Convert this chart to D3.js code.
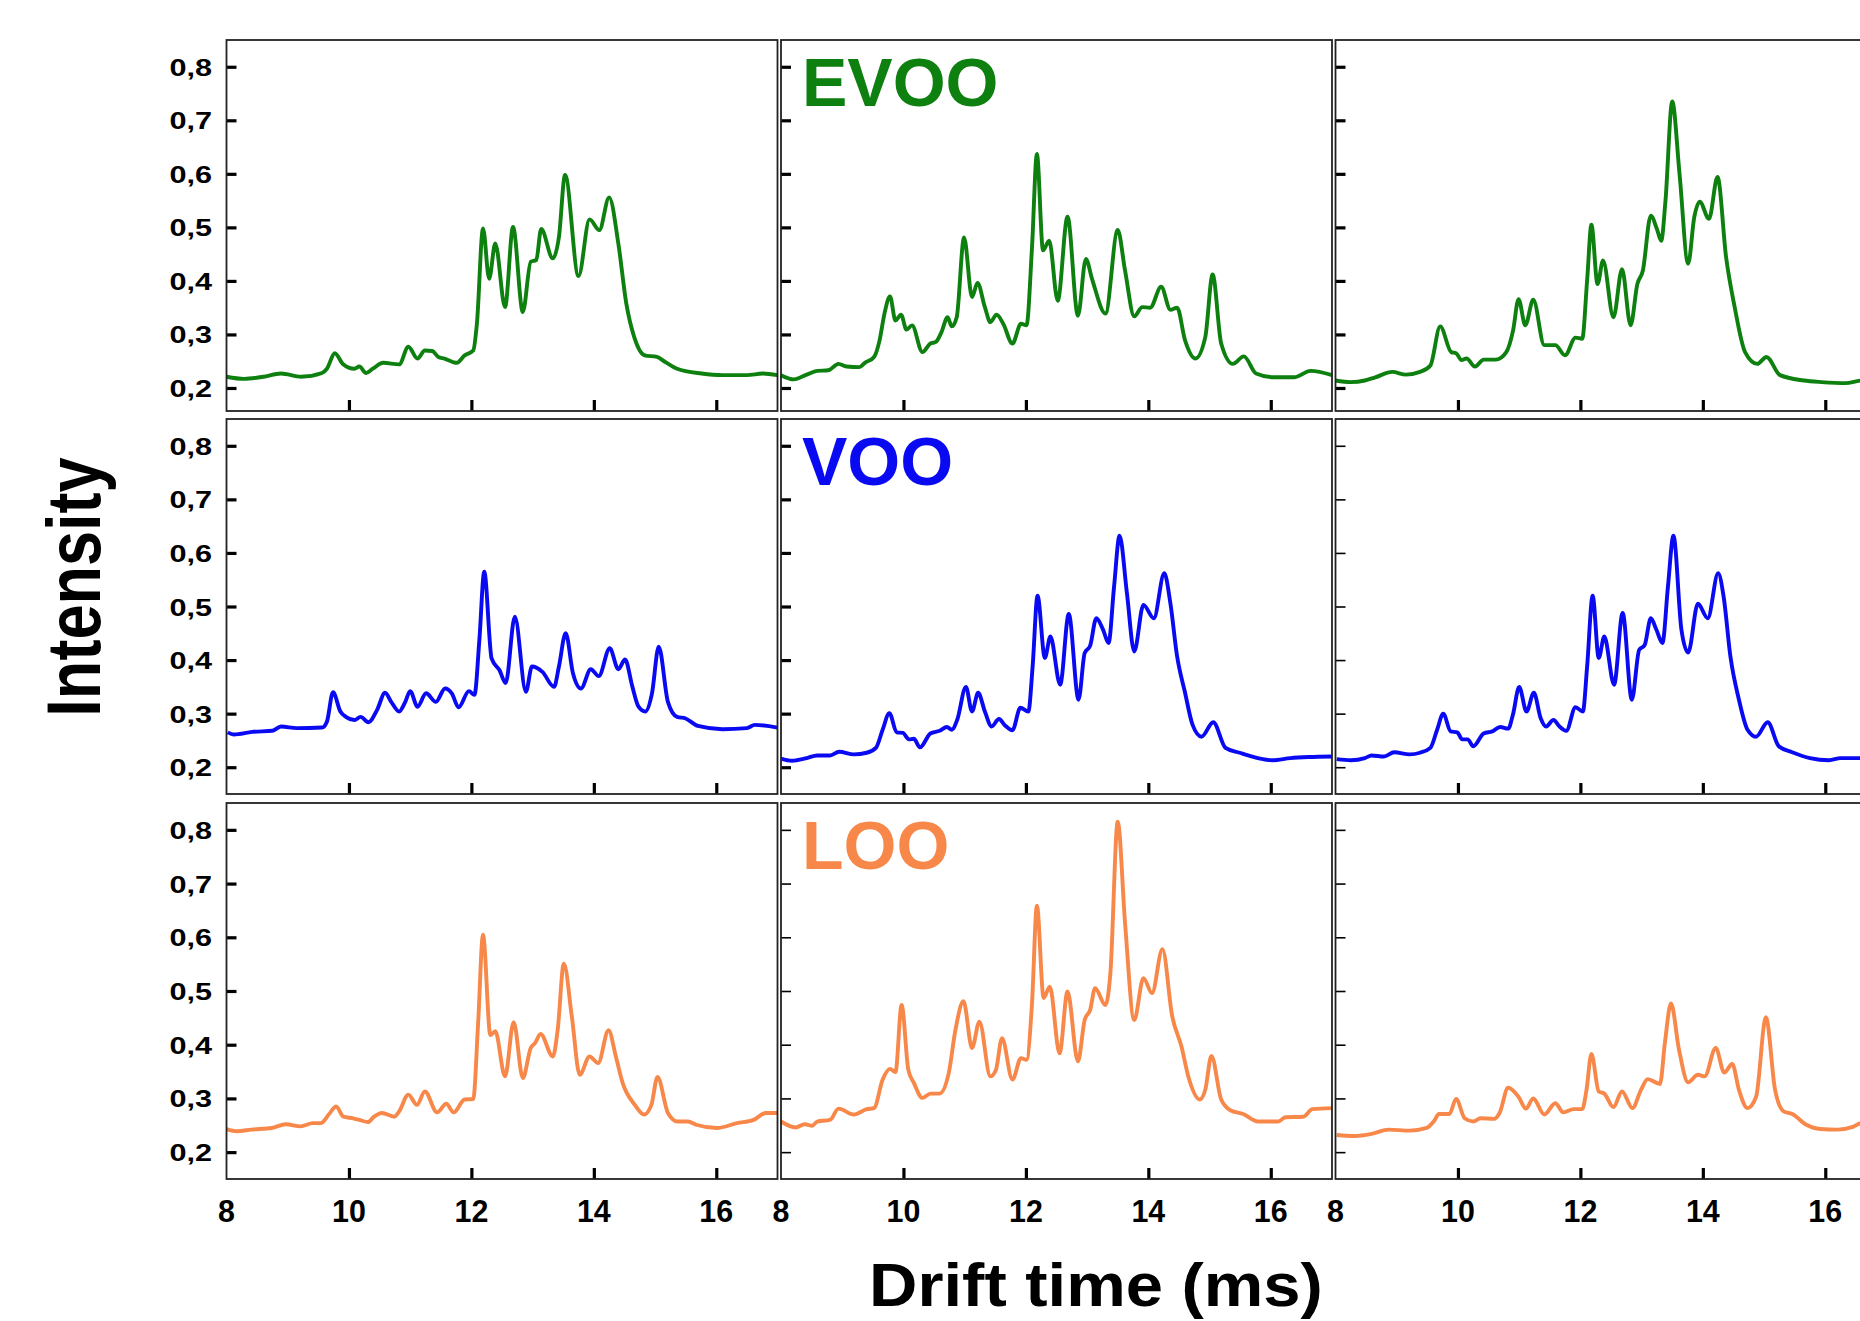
<!DOCTYPE html>
<html>
<head>
<meta charset="utf-8">
<script src="https://cdn.jsdelivr.net/npm/d3@7"></script>
<style>
  body { margin: 0; background: #fff; }
  text { font-family: "Liberation Sans", Arial, sans-serif; font-weight: bold; }
</style>
</head>
<body>
<svg id="chart" width="1860" height="1321"></svg>
<script>
// oil classes (one per row) and their colours
const groups = ["EVOO", "VOO", "LOO"];
const groupColors = ["#0d800f", "#0a0af2", "#f7884a"];
const timeTicks = [8, 10, 12, 14, 16];
const intensityTicks = [0.2, 0.3, 0.4, 0.5, 0.6, 0.7, 0.8];

// drift time (ms), intensity
const evoo1 = [[8.00,0.221],[8.29,0.217],[8.60,0.221],[8.89,0.227],[9.22,0.221],[9.56,0.228],[9.64,0.236],[9.77,0.265],[9.90,0.245],[10.09,0.236],[10.17,0.240],[10.28,0.228],[10.39,0.236],[10.56,0.247],[10.82,0.244],[10.97,0.277],[11.12,0.255],[11.24,0.270],[11.36,0.269],[11.46,0.258],[11.56,0.255],[11.76,0.247],[11.89,0.261],[12.03,0.270],[12.09,0.320],[12.19,0.498],[12.29,0.404],[12.39,0.470],[12.55,0.351],[12.68,0.501],[12.84,0.342],[12.97,0.436],[13.06,0.439],[13.14,0.497],[13.33,0.442],[13.43,0.482],[13.53,0.598],[13.75,0.409],[13.93,0.515],[14.09,0.495],[14.25,0.556],[14.40,0.470],[14.53,0.358],[14.66,0.295],[14.83,0.261],[15.03,0.258],[15.16,0.249],[15.36,0.236],[15.76,0.227],[16.10,0.224],[16.50,0.224],[16.76,0.227],[17.00,0.224]];
const evoo2 = [[8.00,0.224],[8.21,0.216],[8.42,0.225],[8.59,0.232],[8.77,0.233],[8.94,0.245],[9.07,0.240],[9.28,0.239],[9.37,0.247],[9.52,0.258],[9.61,0.289],[9.69,0.339],[9.78,0.371],[9.87,0.326],[9.96,0.337],[10.05,0.309],[10.14,0.317],[10.31,0.267],[10.44,0.283],[10.53,0.286],[10.62,0.304],[10.72,0.332],[10.79,0.315],[10.87,0.332],[10.99,0.481],[11.12,0.370],[11.21,0.396],[11.33,0.351],[11.42,0.323],[11.52,0.337],[11.63,0.320],[11.78,0.283],[11.92,0.320],[12.01,0.317],[12.10,0.463],[12.18,0.637],[12.28,0.457],[12.38,0.475],[12.52,0.363],[12.68,0.520],[12.85,0.335],[12.98,0.441],[13.08,0.404],[13.30,0.339],[13.50,0.495],[13.62,0.419],[13.77,0.334],[13.90,0.351],[14.03,0.350],[14.21,0.389],[14.36,0.346],[14.47,0.350],[14.60,0.289],[14.77,0.255],[14.93,0.295],[15.05,0.412],[15.19,0.283],[15.38,0.245],[15.56,0.259],[15.76,0.227],[16.03,0.220],[16.38,0.220],[16.65,0.232],[17.00,0.224]];
const evoo3 = [[8.00,0.214],[8.25,0.211],[8.48,0.214],[8.65,0.220],[8.93,0.230],[9.15,0.225],[9.38,0.230],[9.55,0.242],[9.71,0.315],[9.89,0.267],[9.97,0.265],[10.06,0.252],[10.14,0.255],[10.28,0.240],[10.42,0.253],[10.62,0.253],[10.79,0.267],[10.90,0.307],[10.99,0.366],[11.10,0.317],[11.23,0.365],[11.41,0.280],[11.59,0.280],[11.75,0.261],[11.92,0.294],[12.03,0.292],[12.11,0.401],[12.18,0.505],[12.28,0.394],[12.37,0.438],[12.54,0.332],[12.68,0.422],[12.82,0.317],[12.93,0.394],[13.02,0.419],[13.15,0.522],[13.25,0.497],[13.32,0.475],[13.39,0.550],[13.50,0.735],[13.62,0.599],[13.76,0.432],[13.86,0.519],[13.95,0.548],[14.10,0.516],[14.24,0.594],[14.38,0.444],[14.52,0.351],[14.69,0.267],[14.89,0.245],[15.04,0.258],[15.26,0.224],[15.65,0.214],[15.94,0.211],[16.33,0.209],[16.60,0.214],[16.80,0.214],[17.00,0.215]];

const voo1 = [[8.02,0.265],[8.12,0.261],[8.42,0.266],[8.75,0.268],[8.89,0.276],[9.15,0.273],[9.56,0.274],[9.64,0.285],[9.74,0.340],[9.86,0.304],[9.95,0.294],[10.09,0.288],[10.19,0.294],[10.32,0.284],[10.46,0.307],[10.59,0.339],[10.69,0.322],[10.82,0.304],[10.92,0.322],[11.00,0.342],[11.12,0.313],[11.26,0.338],[11.42,0.322],[11.57,0.347],[11.68,0.338],[11.79,0.312],[11.96,0.342],[12.05,0.335],[12.13,0.437],[12.21,0.565],[12.33,0.403],[12.46,0.381],[12.56,0.357],[12.71,0.481],[12.89,0.341],[12.99,0.388],[13.16,0.378],[13.35,0.350],[13.43,0.388],[13.54,0.450],[13.66,0.375],[13.79,0.347],[13.95,0.383],[14.08,0.370],[14.26,0.422],[14.40,0.383],[14.51,0.401],[14.63,0.350],[14.73,0.313],[14.84,0.304],[14.95,0.338],[15.06,0.425],[15.21,0.322],[15.36,0.294],[15.50,0.291],[15.70,0.277],[16.10,0.271],[16.50,0.273],[16.63,0.279],[17.00,0.274]];
const voo2 = [[8.00,0.216],[8.18,0.212],[8.42,0.217],[8.59,0.222],[8.80,0.222],[8.95,0.229],[9.19,0.224],[9.40,0.227],[9.55,0.236],[9.66,0.270],[9.77,0.301],[9.89,0.265],[9.99,0.264],[10.09,0.252],[10.17,0.253],[10.27,0.237],[10.44,0.263],[10.59,0.268],[10.71,0.275],[10.79,0.270],[10.88,0.289],[11.02,0.350],[11.12,0.304],[11.22,0.339],[11.33,0.304],[11.44,0.276],[11.56,0.290],[11.66,0.278],[11.78,0.269],[11.91,0.311],[12.04,0.304],[12.11,0.388],[12.19,0.520],[12.31,0.404],[12.40,0.444],[12.56,0.354],[12.70,0.486],[12.86,0.326],[12.96,0.413],[13.05,0.427],[13.15,0.478],[13.26,0.457],[13.35,0.432],[13.44,0.537],[13.53,0.632],[13.65,0.525],[13.77,0.416],[13.92,0.503],[14.09,0.478],[14.26,0.562],[14.36,0.506],[14.47,0.407],[14.60,0.339],[14.72,0.280],[14.87,0.257],[15.06,0.284],[15.26,0.236],[15.49,0.227],[15.79,0.217],[16.03,0.213],[16.32,0.217],[16.62,0.219],[17.00,0.220]];
const voo3 = [[8.02,0.215],[8.25,0.213],[8.48,0.217],[8.59,0.222],[8.79,0.220],[8.96,0.228],[9.21,0.224],[9.38,0.227],[9.55,0.236],[9.66,0.270],[9.76,0.300],[9.88,0.267],[9.99,0.265],[10.07,0.252],[10.16,0.252],[10.25,0.239],[10.42,0.263],[10.56,0.267],[10.69,0.275],[10.82,0.272],[10.90,0.299],[11.00,0.350],[11.12,0.304],[11.24,0.339],[11.35,0.292],[11.44,0.276],[11.56,0.288],[11.66,0.276],[11.77,0.268],[11.92,0.312],[12.04,0.304],[12.11,0.388],[12.20,0.520],[12.30,0.404],[12.39,0.444],[12.55,0.354],[12.69,0.488],[12.84,0.326],[12.96,0.419],[13.05,0.428],[13.15,0.478],[13.24,0.457],[13.34,0.432],[13.43,0.537],[13.52,0.632],[13.65,0.457],[13.76,0.414],[13.92,0.505],[14.08,0.478],[14.25,0.562],[14.34,0.518],[14.45,0.407],[14.59,0.326],[14.73,0.270],[14.87,0.257],[15.06,0.284],[15.24,0.239],[15.46,0.228],[15.75,0.217],[16.06,0.213],[16.25,0.217],[16.58,0.217],[17.00,0.218]];

const loo1 = [[8.00,0.243],[8.17,0.239],[8.41,0.242],[8.74,0.245],[8.97,0.252],[9.21,0.248],[9.41,0.254],[9.54,0.254],[9.67,0.270],[9.79,0.285],[9.91,0.266],[10.07,0.263],[10.17,0.260],[10.31,0.256],[10.41,0.266],[10.54,0.273],[10.74,0.266],[10.82,0.276],[10.97,0.307],[11.11,0.288],[11.24,0.313],[11.44,0.274],[11.59,0.290],[11.71,0.274],[11.89,0.298],[12.03,0.299],[12.11,0.440],[12.19,0.605],[12.31,0.418],[12.39,0.425],[12.55,0.341],[12.69,0.442],[12.84,0.338],[12.97,0.394],[13.04,0.403],[13.13,0.420],[13.33,0.378],[13.41,0.428],[13.51,0.551],[13.64,0.453],[13.77,0.344],[13.93,0.378],[14.07,0.366],[14.24,0.427],[14.36,0.378],[14.47,0.329],[14.67,0.288],[14.82,0.270],[14.94,0.288],[15.04,0.340],[15.21,0.273],[15.37,0.257],[15.54,0.257],[15.67,0.251],[16.01,0.245],[16.34,0.254],[16.61,0.260],[16.81,0.273],[17.00,0.273]];
const loo2 = [[8.00,0.257],[8.24,0.246],[8.39,0.252],[8.51,0.249],[8.59,0.257],[8.80,0.260],[8.94,0.281],[9.19,0.270],[9.40,0.280],[9.52,0.282],[9.66,0.335],[9.78,0.355],[9.87,0.349],[9.97,0.474],[10.08,0.353],[10.17,0.329],[10.31,0.301],[10.44,0.309],[10.59,0.309],[10.74,0.347],[10.85,0.428],[10.98,0.481],[11.12,0.394],[11.24,0.443],[11.42,0.341],[11.51,0.353],[11.61,0.412],[11.78,0.335],[11.92,0.375],[12.01,0.372],[12.10,0.477],[12.18,0.659],[12.29,0.487],[12.39,0.508],[12.55,0.384],[12.68,0.499],[12.85,0.369],[12.96,0.446],[13.05,0.465],[13.13,0.505],[13.30,0.474],[13.38,0.533],[13.50,0.815],[13.62,0.626],[13.77,0.446],[13.92,0.524],[14.06,0.496],[14.23,0.578],[14.39,0.453],[14.54,0.397],[14.66,0.338],[14.84,0.298],[14.93,0.316],[15.03,0.379],[15.19,0.298],[15.34,0.278],[15.55,0.271],[15.79,0.257],[16.12,0.257],[16.24,0.265],[16.53,0.266],[16.68,0.280],[17.00,0.282]];
const loo3 = [[8.02,0.232],[8.31,0.230],[8.59,0.234],[8.87,0.242],[9.21,0.240],[9.49,0.245],[9.61,0.258],[9.69,0.271],[9.86,0.271],[9.97,0.299],[10.11,0.263],[10.25,0.257],[10.37,0.263],[10.59,0.262],[10.68,0.273],[10.82,0.320],[10.99,0.303],[11.11,0.281],[11.23,0.300],[11.41,0.270],[11.59,0.291],[11.72,0.274],[11.89,0.280],[12.03,0.280],[12.10,0.316],[12.18,0.383],[12.30,0.313],[12.39,0.309],[12.54,0.284],[12.68,0.313],[12.85,0.282],[12.99,0.316],[13.10,0.336],[13.30,0.327],[13.38,0.403],[13.48,0.477],[13.61,0.391],[13.76,0.330],[13.92,0.344],[14.03,0.341],[14.21,0.394],[14.35,0.348],[14.48,0.364],[14.59,0.316],[14.73,0.282],[14.87,0.303],[15.03,0.451],[15.18,0.316],[15.32,0.276],[15.46,0.271],[15.69,0.251],[15.92,0.243],[16.20,0.242],[16.45,0.247],[16.58,0.254],[16.80,0.256],[17.00,0.258]];

const spectra = [[evoo1, evoo2, evoo3], [voo1, voo2, voo3], [loo1, loo2, loo3]];

// page layout (the third column runs off the right edge, as in the figure)
const W = 1860, H = 1321;
const colLeft = [226.5, 781, 1335.5];
const colWidth = 551;
const rowTop = [40, 419, 803];
const rowBottom = [411, 794, 1179];
const rowFloor = [0.157, 0.15, 0.15];
const thinY = [[false, false, false], [false, false, true], [false, true, true]];

const fmt = d3.formatLocale({ decimal: ",", thousands: ".", grouping: [3], currency: ["", ""] }).format(".1f");

const svg = d3.select("#chart");
svg.append("rect").attr("width", W).attr("height", H).attr("fill", "#fff");

const panels = svg.append("g").attr("id", "panels");

groups.forEach((name, r) => {
  const y = d3.scaleLinear().domain([rowFloor[r], 0.85]).range([rowBottom[r], rowTop[r]]);

  colLeft.forEach((left, c) => {
    const x = d3.scaleLinear().domain([8, 17]).range([left, left + colWidth]);
    const panel = panels.append("g").attr("class", "panel");

    // inward ticks on the left edge
    const yAxis = panel.append("g")
      .attr("transform", `translate(${left},0)`)
      .call(d3.axisRight(y).tickValues(intensityTicks).tickSize(10).tickFormat(""));
    yAxis.select(".domain").remove();
    yAxis.selectAll(".tick line").attr("stroke", "#000").attr("stroke-width", thinY[r][c] ? 1.6 : 3.2);

    // inward ticks on the bottom edge
    const xAxis = panel.append("g")
      .attr("transform", `translate(0,${rowBottom[r]})`)
      .call(d3.axisTop(x).tickValues(timeTicks.slice(1)).tickSize(11).tickFormat(""));
    xAxis.select(".domain").remove();
    xAxis.selectAll(".tick line").attr("stroke", "#000").attr("stroke-width", 3.2);

    // spectrum
    const line = d3.line()
      .x(d => x(d[0]))
      .y(d => y(d[1]))
      .curve(d3.curveMonotoneX);
    panel.append("path")
      .datum(spectra[r][c])
      .attr("d", line)
      .attr("fill", "none")
      .attr("stroke", groupColors[r])
      .attr("stroke-width", 3.9)
      .attr("stroke-linejoin", "round");

    // frame
    panel.append("rect")
      .attr("x", left)
      .attr("y", rowTop[r])
      .attr("width", colWidth)
      .attr("height", rowBottom[r] - rowTop[r])
      .attr("fill", "none")
      .attr("stroke", "#222")
      .attr("stroke-width", 1.8);

    if (c === 0) {
      panel.append("g").selectAll("text")
        .data(intensityTicks)
        .join("text")
        .attr("transform", d => `translate(212,${y(d) + 9}) scale(1.25,1)`)
        .attr("text-anchor", "end")
        .attr("font-size", 24.5)
        .attr("fill", "#000")
        .text(fmt);
    }

    if (r === groups.length - 1) {
      panel.append("g").selectAll("text")
        .data(timeTicks)
        .join("text")
        .attr("transform", d => `translate(${x(d)},1222) scale(0.95,1)`)
        .attr("text-anchor", "middle")
        .attr("font-size", 32)
        .attr("fill", "#000")
        .text(d => d);
    }

    // class label sits in the middle column
    if (c === 1) {
      panel.append("text")
        .attr("x", left + 21)
        .attr("y", rowTop[r] + 66)
        .attr("font-size", 68)
        .attr("fill", groupColors[r])
        .text(name);
    }
  });
});

// axis titles
svg.append("text")
  .attr("transform", "translate(100,587) rotate(-90) scale(0.83,1)")
  .attr("text-anchor", "middle")
  .attr("font-size", 76)
  .attr("fill", "#000")
  .text("Intensity");

svg.append("text")
  .attr("transform", "translate(1096,1306) scale(1.08,1)")
  .attr("text-anchor", "middle")
  .attr("font-size", 62)
  .attr("fill", "#000")
  .text("Drift time (ms)");
</script>
</body>
</html>
